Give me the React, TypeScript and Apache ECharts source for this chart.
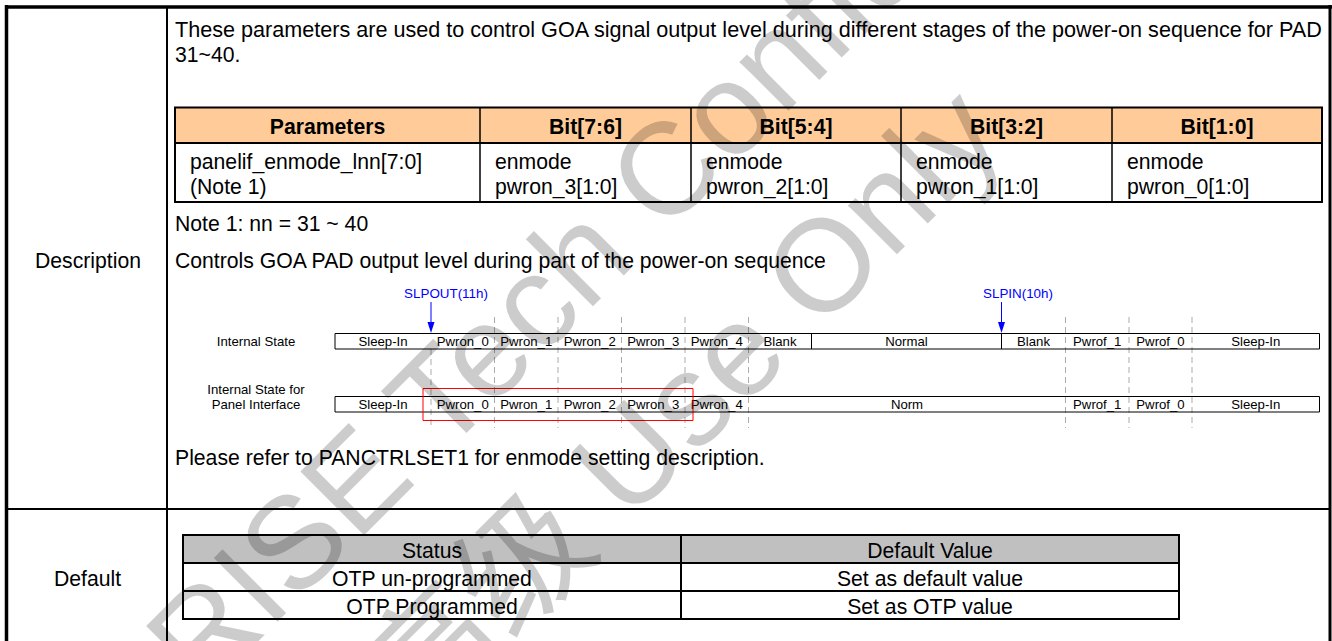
import React, { useEffect, useRef } from "react";
import * as echarts from "echarts";

const FONT = '"Liberation Sans", Arial, sans-serif';

const introLines = [
  "These parameters are used to control GOA signal output level during different stages of the power-on sequence for PAD",
  "31~40.",
];
const bitHeaders = ["Parameters", "Bit[7:6]", "Bit[5:4]", "Bit[3:2]", "Bit[1:0]"];
const bitRow = [
  ["panelif_enmode_lnn[7:0]", "(Note 1)"],
  ["enmode", "pwron_3[1:0]"],
  ["enmode", "pwron_2[1:0]"],
  ["enmode", "pwron_1[1:0]"],
  ["enmode", "pwron_0[1:0]"],
];
const noteText = "Note 1: nn = 31 ~ 40";
const controlsText = "Controls GOA PAD output level during part of the power-on sequence";
const referText = "Please refer to PANCTRLSET1 for enmode setting description.";
const rowLabels = ["Description", "Default"];
const stateLabel = ["Internal State"];
const panelLabel = ["Internal State for", "Panel Interface"];
const stateSegments = ["Sleep-In", "Pwron_0", "Pwron_1", "Pwron_2", "Pwron_3", "Pwron_4", "Blank", "Normal", "Blank", "Pwrof_1", "Pwrof_0", "Sleep-In"];
const panelSegments = ["Sleep-In", "Pwron_0", "Pwron_1", "Pwron_2", "Pwron_3", "Pwron_4", "Norm", "Pwrof_1", "Pwrof_0", "Sleep-In"];
const commands = ["SLPOUT(11h)", "SLPIN(10h)"];
const statusHeaders = ["Status", "Default Value"];
const statusRows = [
  ["OTP un-programmed", "Set as default value"],
  ["OTP Programmed", "Set as OTP value"],
];
const watermarks = ["RISE Tech Confidential", "高级 Use Only"];

// layout
const bitX = [175, 480, 691, 901, 1112, 1322];
const stateX = [335, 431, 494.5, 558, 621.5, 685, 748.5, 811.5, 1001.5, 1065.5, 1129, 1192, 1319.5];
const panelX = [335, 431, 494.5, 558, 621.5, 685, 748.5, 1065.5, 1129, 1192, 1319.5];
const dashTallX = [494.5, 558, 621.5, 685, 748.5, 1065.5, 1129, 1192];
const statusX = [183, 681, 1179];
const statusY = [535, 563, 591, 619];

function buildGraphic() {
  const els: any[] = [];
  const line = (x1: number, y1: number, x2: number, y2: number, w = 2, stroke = "#000", dash?: number[]) =>
    els.push({ type: "line", shape: { x1, y1, x2, y2 }, style: { stroke, lineWidth: w, lineDash: dash } });
  const rect = (x: number, y: number, width: number, height: number, fill: string) =>
    els.push({ type: "rect", shape: { x, y, width, height }, style: { fill } });
  const text = (s: string, x: number, y: number, size: number, align = "left", extra: any = {}) =>
    els.push({
      type: "text", x, y,
      style: { text: s, fontFamily: FONT, fontSize: size, fill: "#000", textAlign: align, textVerticalAlign: "middle", ...extra },
    });

  // outer frame
  line(167, 7, 167, 641, 2);
  line(6.5, 5, 6.5, 641, 3.5);
  line(1330, 5, 1330, 641, 3);
  line(5, 7, 1332, 7, 3.5);
  line(7, 509, 1330, 509, 2);
  text(rowLabels[0], 88, 260, 21.2, "center");
  text(rowLabels[1], 87.5, 578, 21.2, "center");

  // intro
  text(introLines[0], 175, 29, 21.6);
  text(introLines[1], 175, 54, 21.2);

  // bit table
  rect(bitX[0], 107, bitX[5] - bitX[0], 36, "#FFCC99");
  line(bitX[0] - 1, 107.5, bitX[5] + 1, 107.5, 2);
  line(bitX[0] - 1, 143, bitX[5] + 1, 143, 2);
  line(bitX[0] - 1, 202, bitX[5] + 1, 202, 2);
  bitX.forEach((x) => line(x, 107, x, 203, x === bitX[0] || x === bitX[5] ? 2 : 1.5));
  bitHeaders.forEach((h, i) => text(h, (bitX[i] + bitX[i + 1]) / 2, 126, 21.2, "center", { fontWeight: "bold" }));
  bitRow.forEach((r, i) => {
    const x = i === 0 ? bitX[0] + 15 : bitX[i] + 15;
    text(r[0], x, 161.5, 21.2);
    text(r[1], x, 186, 21.2);
  });

  text(noteText, 175, 223, 21.2);
  text(controlsText, 175, 260, 21.2);

  // timing diagram: dashes first
  dashTallX.forEach((x) => line(x, 317, x, 428, 0.7, "#888", [6, 4]));
  line(431, 349, 431, 428, 0.7, "#888", [6, 4]);

  const band = (xs: number[], labels: string[], top: number, bottom: number, solid: number[]) => {
    els.push({ type: "rect", shape: { x: xs[0], y: top, width: xs[xs.length - 1] - xs[0], height: bottom - top }, style: { fill: "none", stroke: "#000", lineWidth: 1 } });
    labels.forEach((l, i) => text(l, (xs[i] + xs[i + 1]) / 2, (top + bottom) / 2, 13.2, "center"));
    solid.forEach((x) => line(x, top, x, bottom, 1));
  };
  band(stateX, stateSegments, 333.5, 349, [811.5, 1001.5]);
  band(panelX, panelSegments, 396.5, 412, []);
  text(stateLabel[0], 256, 341, 13.2, "center");
  text(panelLabel[0], 256, 389, 13.2, "center");
  text(panelLabel[1], 256, 404, 13.2, "center");

  // commands
  text(commands[0], 446, 293, 13.4, "center", { fill: "#0000FF" });
  text(commands[1], 1018, 293, 13.4, "center", { fill: "#0000FF" });
  [431, 1001.5].forEach((x) => {
    line(x, 302, x, 323, 1, "#0000FF");
    els.push({ type: "polygon", shape: { points: [[x - 3.5, 322], [x + 3.5, 322], [x, 333]] }, style: { fill: "#0000FF" } });
  });
  els.push({ type: "rect", shape: { x: 423, y: 388.5, width: 270, height: 32 }, style: { fill: "none", stroke: "#FF0000", lineWidth: 1 } });

  text(referText, 175, 457, 21.2);

  // status table
  rect(statusX[0], statusY[0], statusX[2] - statusX[0], statusY[1] - statusY[0], "#C0C0C0");
  statusY.forEach((y) => line(statusX[0] - 1, y, statusX[2] + 1, y, 2));
  statusX.forEach((x) => line(x, statusY[0], x, statusY[3], 2));
  statusHeaders.forEach((h, i) => text(h, (statusX[i] + statusX[i + 1]) / 2, 550, 21.2, "center"));
  statusRows.forEach((r, j) =>
    r.forEach((c, i) => text(c, (statusX[i] + statusX[i + 1]) / 2, 578 + j * 28, 21.2, "center"))
  );

  // watermarks
  const mark = (s: string, x: number, y: number, size: number) =>
    els.push({
      type: "text", x, y, rotation: Math.PI / 4, silent: true,
      style: { text: s, fontFamily: '"Liberation Sans", "Noto Sans CJK SC", sans-serif', fontSize: size, fill: "rgba(0,0,0,0.2)", textAlign: "left", textVerticalAlign: "middle" },
    });
  mark(watermarks[0], 170, 665, 131);
  mark(watermarks[1], 385, 702, 131);
  return els;
}

export default function App() {
  const ref = useRef<HTMLDivElement>(null);
  useEffect(() => {
    document.body.style.margin = "0";
    const chart = echarts.init(ref.current!, undefined, { renderer: "svg" });
    chart.setOption({ animation: false, backgroundColor: "#fff", graphic: { elements: buildGraphic() } });
    return () => chart.dispose();
  }, []);
  return <div ref={ref} style={{ width: 1332, height: 641 }} />;
}
